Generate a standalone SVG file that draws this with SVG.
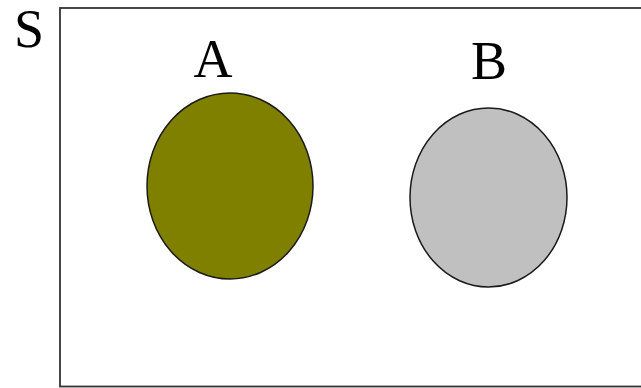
<svg xmlns="http://www.w3.org/2000/svg" width="641" height="388" viewBox="0 0 641 388">
<style>
.lbl{font-family:"Liberation Serif","Times New Roman",serif;font-size:54px;fill:#000}
.set{stroke:#1a1a1a;stroke-width:1.5}
</style>
<rect width="641" height="388" fill="#fff"/>
<g id="S">
<rect x="60" y="8" width="590" height="378.5" fill="none" stroke="#333" stroke-width="1.8"/>
<text class="lbl" x="14" y="47">S</text>
</g>
<g id="A">
<ellipse class="set" cx="230" cy="186" rx="83" ry="93" fill="#808000"/>
<text class="lbl" x="213" y="77" text-anchor="middle">A</text>
</g>
<g id="B">
<ellipse class="set" cx="488.5" cy="197.5" rx="78.5" ry="89.5" fill="#c0c0c0"/>
<text class="lbl" x="489" y="79" text-anchor="middle">B</text>
</g>
<g id="connectors"></g>
</svg>
